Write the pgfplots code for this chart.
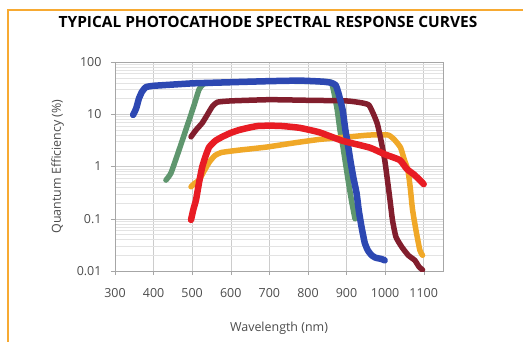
\documentclass[border=0pt]{standalone}
\usepackage{fontspec}
\setmainfont{Open Sans}
\usepackage{pgfplots}
\pgfplotsset{compat=1.18}
\definecolor{cblue}{RGB}{45,72,178}
\definecolor{cred}{RGB}{232,28,36}
\definecolor{corange}{RGB}{240,168,40}
\definecolor{cmaroon}{RGB}{130,30,45}
\definecolor{cgreen}{RGB}{95,150,110}
\definecolor{cframe}{RGB}{247,170,50}
\begin{document}
\begin{tikzpicture}
\path[use as bounding box] (0,0) rectangle (523bp,342bp);
\draw[cframe, line width=2bp] (8bp,0) -- (8bp,332bp) -- (523bp,332bp);
\node[font=\bfseries\fontsize{15.5}{17}\selectfont] at (268bp,320bp) {TYPICAL PHOTOCATHODE SPECTRAL RESPONSE CURVES};
\begin{axis}[
  at={(115bp,71bp)}, anchor=south west, scale only axis,
  width=328bp, height=209bp,
  xmin=300, xmax=1150, ymode=log, ymin=0.01, ymax=100,
  xtick={300,400,...,1100},
  ytick={0.01,0.1,1,10,100}, yticklabels={0.01,0.1,1,10,100},
  /pgf/number format/assume math mode=true,
  xticklabel style={/pgf/number format/1000 sep={}, yshift=-10bp},
  yticklabel style={xshift=-6bp},
  grid=both,
  major grid style={gray!40, line width=0.5bp},
  minor grid style={gray!22, line width=0.4bp},
  minor y tick num=8,
  axis line style={gray!70},
  tick style={gray!70},
  tick align=outside, tick pos=left,
  major tick length=4bp, minor tick length=0pt,
  ticklabel style={font=\fontsize{12.5}{14}\selectfont, text=black!70},
  xlabel={Wavelength (nm)}, ylabel={Quantum Efficiency (\%)},
  label style={font=\fontsize{12.5}{14}\selectfont, text=black!70},
  xlabel style={yshift=-18bp},
  ylabel style={yshift=6bp},
  every axis plot/.append style={line join=round, line cap=round, smooth, tension=0.3},
]
\addplot[cgreen, line width=5.5bp] coordinates {
(432,0.55)(445,0.75)(466,2.07)(492,7.7)(505,15)(518,30)(530,38)(560,40)(700,43)(850,42)(862,38)(868,25)(876,12)(883,5)(890,2.6)(897,1.2)(905,0.5)(913,0.22)(922,0.1)};
\addplot[corange, line width=5.5bp] coordinates {
(497,0.41)(507,0.48)(518,0.55)(530,0.8)(544,1.2)(558,1.6)(575,1.85)(620,2.05)(692,2.35)(760,2.8)(830,3.3)(908,3.7)(960,4)(1008,4)(1025,3.2)(1040,2.3)(1050,1.33)(1059,0.86)(1065,0.4)(1071,0.15)(1080,0.06)(1090,0.025)(1097,0.02)};
\addplot[cmaroon, line width=5.5bp] coordinates {
(497,3.7)(510,5)(526,6.8)(540,10)(552,14)(565,17)(600,18)(700,19)(800,18.5)(900,18)(940,16.5)(958,15)(970,10)(980,6.5)(990,3)(999,1.33)(1006,0.55)(1012,0.25)(1019,0.095)(1028,0.045)(1043,0.029)(1060,0.02)(1077,0.016)(1088,0.012)(1097,0.0105)};
\addplot[cblue, line width=6.5bp] coordinates {
(347,9.7)(355,13)(362,20)(370,27)(380,33)(400,35)(450,37)(500,39)(550,40)(600,41)(700,43)(780,44)(840,42)(860,40)(872,36)(880,24)(890,12)(897,5)(903,2.8)(910,1.3)(918,0.6)(926,0.31)(932,0.14)(939,0.069)(947,0.035)(955,0.025)(965,0.02)(975,0.018)(990,0.017)(999,0.016)};
\addplot[cred, line width=6.5bp] coordinates {
(497,0.095)(503,0.15)(510,0.23)(518,0.5)(526,0.98)(535,1.6)(544,2.35)(560,3.1)(578,3.7)(600,4.4)(622,5)(650,5.6)(674,6)(726,6)(778,5.5)(830,4.5)(890,3.1)(960,2.3)(1000,1.7)(1038,1.33)(1056,0.9)(1075,0.7)(1090,0.55)(1100,0.46)};
\end{axis}
\end{tikzpicture}
\end{document}
